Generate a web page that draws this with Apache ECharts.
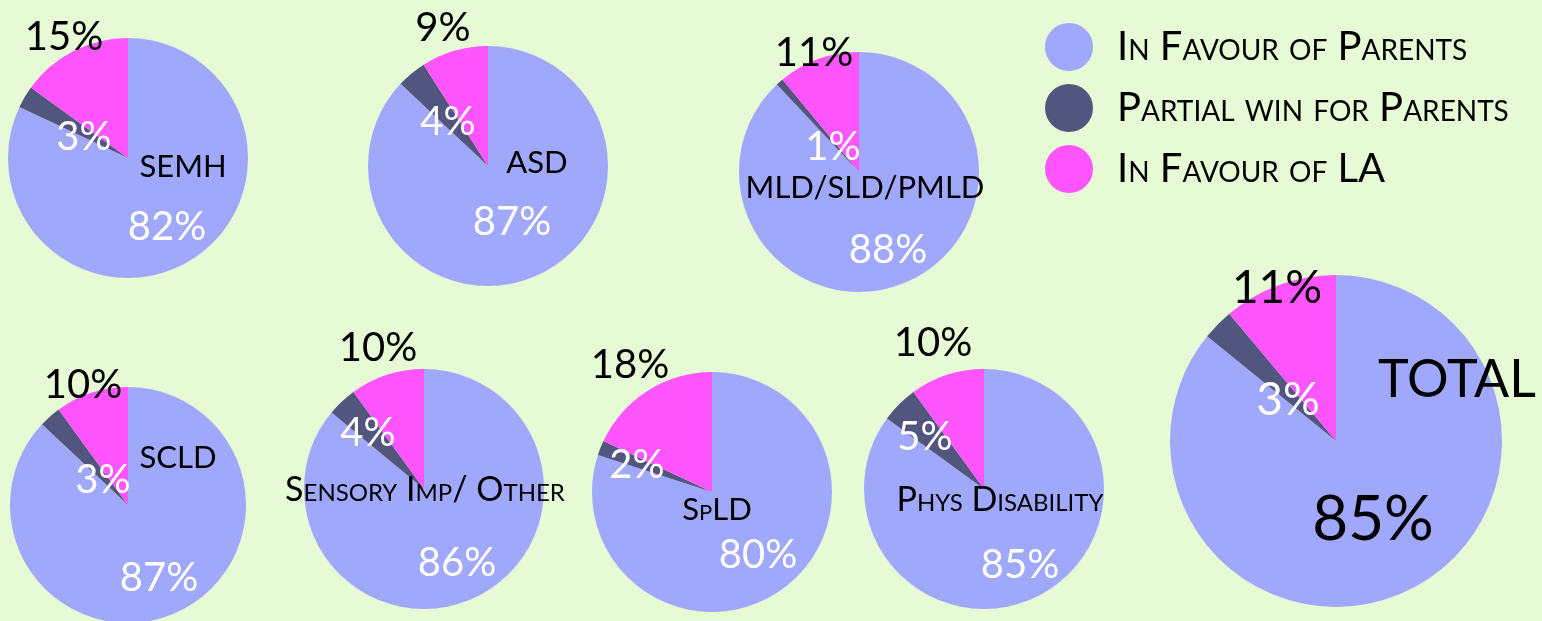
<!DOCTYPE html>
<html>
<head>
<meta charset="utf-8">
<title>Tribunal outcomes by need</title>
<script src="https://cdn.jsdelivr.net/npm/echarts@6/dist/echarts.min.js"></script>
<style>
    html, body { margin: 0; padding: 0; background: #e6fad5; }
    #main { width: 1542px; height: 621px; }
</style>
</head>
<body>
<div id="main"></div>
<script>
/* data */
var categories = ['SEMH', 'ASD', 'MLD/SLD/PMLD', 'SCLD', 'Sensory Imp/ Other', 'SpLD', 'Phys Disability', 'TOTAL'];
var outcomes = ['In Favour of Parents', 'Partial win for Parents', 'In Favour of LA'];
var favourParents = [82, 87, 88, 87, 86, 80, 85, 85];
var partialWin = [3, 4, 1, 3, 4, 2, 5, 3];
var favourLA = [15, 9, 11, 10, 10, 18, 10, 11];

/* layout: pie centres, radii, label offsets from centre */
var pieCenters = [[128, 158], [488, 166], [859, 172], [128, 505], [424, 489], [712, 492], [984, 489], [1336, 441]];
var pieRadius = [120, 120, 120, 118, 120, 120, 120, 166];
var labelOffsets = [
    [[39, 69], [-44, -21], [-64, -121]],
    [[24, 56], [-40, -44], [-45, -138]],
    [[29, 78], [-26, -25], [-45, -119]],
    [[31, 73], [-25, -25], [-45, -120]],
    [[33, 74], [-56, -56], [-46, -141]],
    [[46, 63], [-75, -27], [-82, -127]],
    [[36, 76], [-59, -52], [-51, -146]],
    [[37, 79], [-48, -41], [-59, -153]]
];
var nameOffsets = [[55, 9], [49, -3], [6, 16], [50, -47], [1, 1], [5, 18], [16, 11], [121, -61]];
var nameSizes = [31, 31, 31, 31, 34, 31, 34, 52];
var colors = ['#a0a8fc', '#52567f', '#ff55ff'];
var FONT = 'Lato';

var chart = echarts.init(document.getElementById('main'));

function buildSeries(i) {
    var isTotal = i === categories.length - 1;
    var values = [favourParents[i], partialWin[i], favourLA[i]];
    var labelColors = isTotal ? ['#000', '#fff', '#000'] : ['#fff', '#fff', '#000'];
    var labelSizes = isTotal ? [62, 46, 46] : [40, 40, 40];
    return {
        type: 'pie',
        name: categories[i],
        center: pieCenters[i],
        radius: [0, pieRadius[i]],
        startAngle: 90,
        clockwise: true,
        avoidLabelOverlap: false,
        silent: true,
        itemStyle: { borderWidth: 0 },
        labelLine: { show: false },
        label: {
            show: true,
            position: 'inside',
            formatter: '{c}%',
            fontFamily: FONT
        },
        labelLayout: function (params) {
            var off = labelOffsets[i][params.dataIndex];
            return {
                x: pieCenters[i][0] + off[0],
                y: pieCenters[i][1] + off[1],
                align: 'center',
                verticalAlign: 'middle'
            };
        },
        data: values.map(function (v, k) {
            return {
                name: outcomes[k],
                value: v,
                label: { color: labelColors[k], fontSize: labelSizes[k] }
            };
        })
    };
}

/* category names */
function buildNames() {
    return categories.map(function (name, i) {
        return {
            type: 'text',
            z: 100,
            x: pieCenters[i][0] + nameOffsets[i][0],
            y: pieCenters[i][1] + nameOffsets[i][1],
            style: {
                text: name,
                fontStyle: 'small-caps',
                fontSize: nameSizes[i],
                fontFamily: FONT,
                fill: '#000',
                align: 'center',
                verticalAlign: 'middle'
            }
        };
    });
}

var series = [];
for (var i = 0; i < categories.length; i++) {
    series.push(buildSeries(i));
}

chart.setOption({
    backgroundColor: '#e6fad5',
    animation: false,
    color: colors,
    textStyle: { fontFamily: FONT },
    legend: {
        data: outcomes,
        orient: 'vertical',
        left: 1040,
        top: 18,
        icon: 'circle',
        itemWidth: 86,
        itemHeight: 48,
        itemGap: 13,
        selectedMode: false,
        textStyle: {
            fontSize: 40,
            fontStyle: 'small-caps',
            fontFamily: FONT,
            color: '#000'
        }
    },
    graphic: buildNames(),
    series: series
});
</script>
</body>
</html>
